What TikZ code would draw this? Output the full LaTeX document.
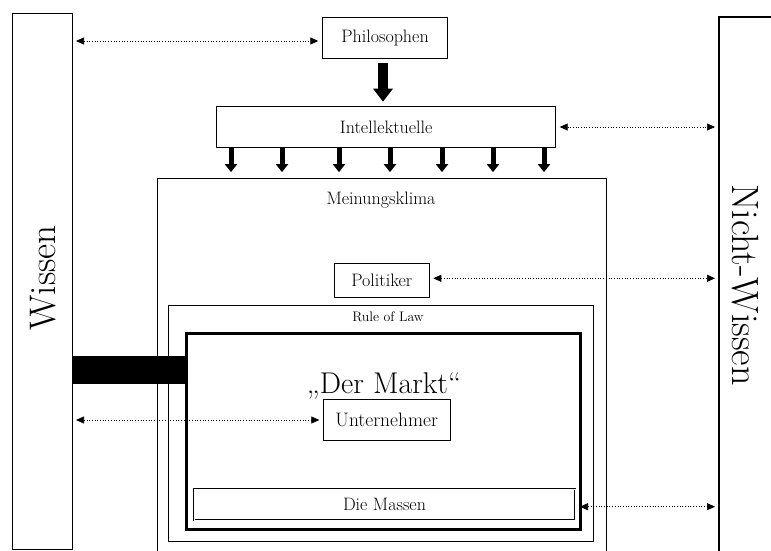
\documentclass[tikz,border=0pt]{standalone}
\usetikzlibrary{arrows.meta,calc}
\begin{document}
\begin{tikzpicture}[x=1pt,y=-1pt,
  box/.style={draw,line width=0.8pt,inner sep=0pt,outer sep=0pt,anchor=center},
  lbl/.style={inner sep=0pt,font=\fontsize{18}{20}\selectfont},
  dotarrow/.style={dotted,line width=0.7pt,{Triangle[length=8pt,width=7pt]}-{Triangle[length=8pt,width=7pt]},shorten <=4pt,shorten >=4pt},
  bigarrow/.style={line width=10pt,-{Triangle[length=13pt,width=19pt]}},
  smallarrow/.style={line width=5pt,-{Triangle[length=8pt,width=12pt]},shorten <=1pt,shorten >=6pt}]
\useasboundingbox (0,0) rectangle (771,551);
\clip (0,0) rectangle (771,551);
% side boxes
\node[box,minimum width=60pt,minimum height=536pt] (wissen) at (42,281) {};
\node[box,line width=1.6pt,minimum width=71pt,minimum height=553pt] (nichtwissen) at (754.5,293.5) {};
\node[inner sep=0pt,rotate=90,font=\fontsize{37}{40}\selectfont] (wissentext) at (43,278) {Wissen};
\node[inner sep=0pt,rotate=-90,font=\fontsize{38}{40}\selectfont] (nwtext) at (745,285) {Nicht-Wissen};
% top boxes
\node[box,minimum width=125.4pt,minimum height=41.4pt] (philo) at (385,38) {};
\node[lbl] (philotext) at (philo) {Philosophen};
\node[box,minimum width=339pt,minimum height=40.6pt] (intel) at (386.2,127) {};
\node[lbl] (inteltext) at (intel) {Intellektuelle};
% containers
\node[box,minimum width=449.4pt,minimum height=391.7pt] (meinung) at (382,374) {};
\node[lbl] (meinungtext) at (381,200) {Meinungsklima};
\node[box,minimum width=95pt,minimum height=34pt] (politiker) at (381.8,280.3) {};
\node[lbl] (politext) at (politiker) {Politiker};
\node[box,minimum width=425.2pt,minimum height=236.2pt] (rule) at (381.1,423.6) {};
\node[lbl,font=\fontsize{13.8}{15}\selectfont] (ruletext) at (388,317) {Rule of Law};
\node[box,line width=3pt,minimum width=394pt,minimum height=196pt] (markt) at (383.5,431) {};
\node[inner sep=0pt,anchor=base,font=\fontsize{30}{33}\selectfont] (markttext) at (384,393) {„Der Markt“};
\node[box,minimum width=126.7pt,minimum height=41.4pt] (unternehmer) at (386.7,420) {};
\node[lbl,font=\fontsize{19.5}{21}\selectfont] (untext) at (unternehmer) {Unternehmer};
\node[box,line width=0.6pt,double,double distance=0.8pt,minimum width=381pt,minimum height=30.7pt] (massen) at (384.5,504.7) {};
\node[lbl] (massentext) at (massen) {Die Massen};
% black bar
\node[fill=black,inner sep=0pt,outer sep=0pt,minimum width=114pt,minimum height=28pt] (bar) at (129,370) {};
% thick arrows
\draw[bigarrow,shorten <=4pt,shorten >=5pt] ([xshift=-2pt]philo.south) -- ([xshift=-2pt]philo.south |- intel.north);
\foreach \xx in {231,282,339,390,442,493,544}{
  \draw[smallarrow] (intel.south -| \xx,0) -- (meinung.north -| \xx,0);
}
% dotted arrows
\draw[dotarrow] (wissen.east |- 0,41) -- ([yshift=-3pt]philo.west);
\draw[dotarrow] (intel.east) -- (intel.east -| nichtwissen.west);
\draw[dotarrow] ([yshift=2pt]politiker.east) -- ([yshift=2pt]politiker.east -| nichtwissen.west);
\draw[dotarrow] (wissen.east |- unternehmer.west) -- (unternehmer.west);
\draw[dotarrow,shorten <=5pt] ([yshift=-2pt]massen.east) -- ([yshift=-2pt]massen.east -| nichtwissen.west);
\end{tikzpicture}
\end{document}
